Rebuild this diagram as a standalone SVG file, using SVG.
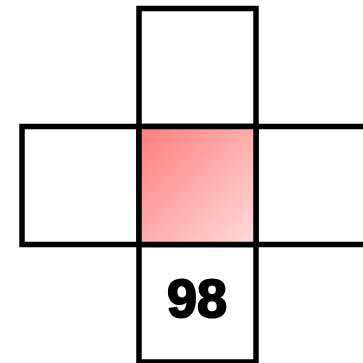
<svg xmlns="http://www.w3.org/2000/svg" width="363" height="363" viewBox="0 0 363 363">
<style>
.cell{fill:#ffffff;stroke:#000000;stroke-width:5.5}
.lbl{font-family:"Liberation Sans",Arial,sans-serif;font-weight:bold;font-size:54px;fill:#000000;stroke:#000000;stroke-width:2;stroke-linejoin:round;text-anchor:middle}
</style>
<defs>
<linearGradient id="g" x1="0" y1="0" x2="1" y2="1">
<stop offset="0" stop-color="#ff7c7c"/>
<stop offset="1" stop-color="#ffdcdc"/>
</linearGradient>
</defs>
<rect width="363" height="363" fill="#ffffff"/>
<g id="top"><rect class="cell" x="139" y="8.5" width="117" height="118"/></g>
<g id="left"><rect class="cell" x="22" y="126.5" width="117" height="118"/></g>
<g id="right"><rect class="cell" x="256" y="126.5" width="117" height="118"/></g>
<g id="bottom"><rect class="cell" x="139" y="244.5" width="117" height="117.5"/>
<text class="lbl" x="197" y="317">98</text></g>
<g id="center"><rect class="cell" x="139" y="126.5" width="117" height="118" style="fill:url(#g)"/></g>
<g id="connectors"></g>
</svg>
